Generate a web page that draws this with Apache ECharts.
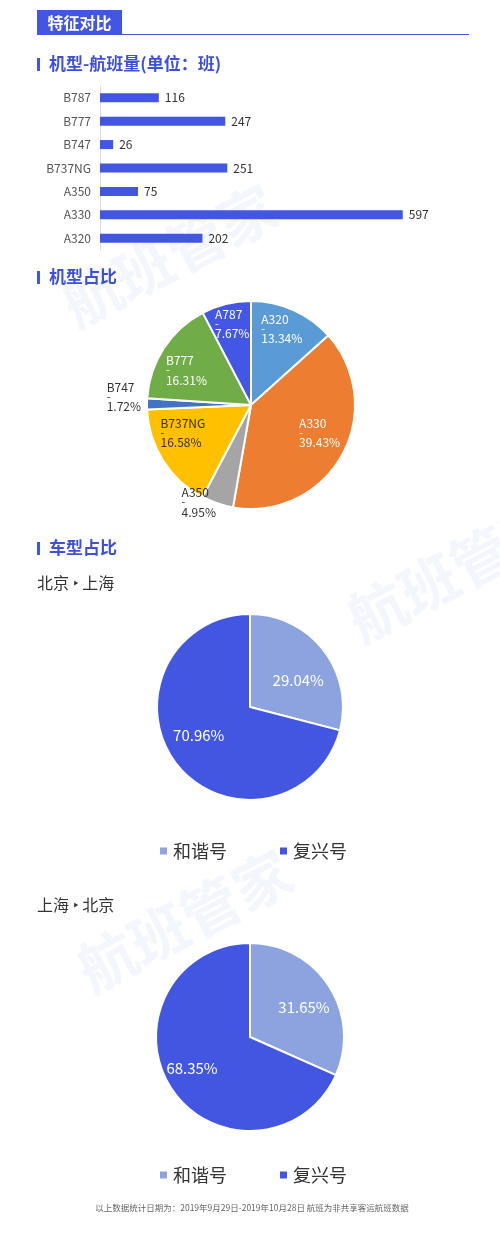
<!DOCTYPE html>
<html><head><meta charset="utf-8">
<script src="https://cdn.jsdelivr.net/npm/echarts@6/dist/echarts.min.js"></script>
<style>html,body{margin:0;padding:0;background:#fff}#c{width:500px;height:1233px}</style>
</head><body><div id="c"></div>
<script>
// ---- data ----
const barCategories = ['A320', 'A330', 'A350', 'B737NG', 'B747', 'B777', 'B787'];
const barValues = [202, 597, 75, 251, 26, 247, 116];
const pieNames = ['A320', 'A330', 'A350', 'B737NG', 'B747', 'B777', 'A787'];
const piePercents = [13.34, 39.43, 4.95, 16.58, 1.72, 16.31, 7.67];
const trainNames = ['和谐号', '复兴号'];
const bjshPercents = [29.04, 70.96];
const shbjPercents = [31.65, 68.35];

// ---- styles ----
const FONT = 'Noto Sans CJK SC';
const BLUE = '#4356e2';
const LIGHT = '#8ca3e0';
const pieColors = ['#5b9bd5', '#ed7d31', '#a5a5a5', '#ffc000', '#4472c4', '#70ad47', '#4356e6'];
const pieLabelColors = ['#fff', '#fff', '#333', '#333', '#333', '#fff', '#fff'];
const pieLabelNudge = [[-3, 0], [-4, -12], [3, 1], [2, -16], [-3, -7], [5, 11], [1, 0]];
const outsideLabels = ['A350', 'B747'];
const trainColors = [LIGHT, BLUE];
const bjshNudge = [[0, 11], [-3, -9]];
const shbjNudge = [[2, 4], [-6, -2]];

const chart = echarts.init(document.getElementById('c'), null, {renderer: 'canvas'});

const pieRich = {
  n: {fontSize: 12, lineHeight: 10, align: 'left', fontFamily: FONT},
  s: {fontSize: 11, lineHeight: 9, align: 'left', fontFamily: FONT},
  p: {fontSize: 12, lineHeight: 11, align: 'left', fontFamily: FONT}
};

function pieData(withStyle) {
  return pieNames.map((n, i) => {
    const d = {name: n, value: piePercents[i]};
    if (withStyle) {
      d.itemStyle = {color: pieColors[i]};
    } else {
      const outside = outsideLabels.indexOf(n) >= 0;
      d.label = {
        position: outside ? 'outside' : 'inside',
        color: pieLabelColors[i],
        offset: pieLabelNudge[i]
      };
      if (outside) d.labelLine = {show: false, length: 0, length2: 0};
    }
    return d;
  });
}

function trainData(vals, withStyle, nudge) {
  return trainNames.map((n, i) => {
    const d = {name: n, value: vals[i]};
    if (withStyle) d.itemStyle = {color: trainColors[i]};
    else d.label = {offset: nudge[i]};
    return d;
  });
}

function watermark(x, y, rot, size) {
  return {
    type: 'text', x: x, y: y, rotation: rot, z: -10, silent: true,
    style: {text: '航班管家', fontSize: size, fontWeight: 'bold', fontFamily: FONT,
            fill: 'rgba(200,212,240,0.22)', verticalAlign: 'bottom'}
  };
}

function sectionTitle(text, y) {
  return [
    {type: 'rect', shape: {x: 37, y: y - 6, width: 3, height: 13}, style: {fill: BLUE}},
    {type: 'text', x: 49, y: y, style: {text: text, fontSize: 17, fontWeight: 'bold', fontFamily: FONT,
      fill: '#3d50d8', verticalAlign: 'middle'}}
  ];
}

const legendBase = {
  data: trainNames, left: 153, itemWidth: 9, itemHeight: 9, icon: 'rect', itemGap: 51,
  textStyle: {fontSize: 18, color: '#333', fontFamily: FONT, lineHeight: 20}, selectedMode: false
};

const option = {
  backgroundColor: '#fff',
  animation: false,
  textStyle: {fontFamily: FONT},
  graphic: [
    watermark(80, 335, 0.48, 58),
    watermark(365, 650, 0.48, 58),
    watermark(95, 1000, 0.48, 58),
    {type: 'rect', shape: {x: 37, y: 10, width: 85, height: 25}, style: {fill: BLUE}},
    {type: 'line', shape: {x1: 37, y1: 34.5, x2: 469, y2: 34.5}, style: {stroke: BLUE, lineWidth: 1}},
    {type: 'text', x: 79.5, y: 22.5, style: {text: '特征对比', fontSize: 16, fontWeight: 'bold', fontFamily: FONT,
      fill: '#fff', align: 'center', verticalAlign: 'middle'}},
    ...sectionTitle('机型-航班量(单位：班)', 64),
    ...sectionTitle('机型占比', 277),
    ...sectionTitle('车型占比', 548),
    {type: 'text', x: 37, y: 583, style: {text: '北京 ‣ 上海', fontSize: 16, fontFamily: FONT,
      fill: '#333', verticalAlign: 'middle'}},
    {type: 'text', x: 37, y: 905, style: {text: '上海 ‣ 北京', fontSize: 16, fontFamily: FONT,
      fill: '#333', verticalAlign: 'middle'}},
    {type: 'text', x: 252, y: 1208, style: {text: '以上数据统计日期为：2019年9月29日-2019年10月28日 航班为非共享客运航班数据',
      fontSize: 8.5, fontFamily: FONT, fill: '#666', align: 'center', verticalAlign: 'middle'}}
  ],
  legend: [
    Object.assign({top: 836}, legendBase),
    Object.assign({top: 1160}, legendBase)
  ],
  grid: {left: 100, top: 86, width: 355, height: 164},
  xAxis: {type: 'value', max: 700, show: false},
  yAxis: {
    type: 'category', data: barCategories,
    axisLine: {lineStyle: {color: '#dcdcdc'}},
    axisTick: {show: false},
    axisLabel: {color: '#555', fontSize: 12, margin: 9}
  },
  series: [
    {
      type: 'bar', data: barValues, barWidth: 9,
      itemStyle: {color: BLUE},
      label: {show: true, position: 'right', distance: 6, color: '#333', fontSize: 12}
    },
    {
      type: 'pie', name: 'pie1', center: [251, 405], radius: 104, startAngle: 90,
      data: pieData(true), label: {show: false}, labelLine: {show: false},
      itemStyle: {borderColor: '#fff', borderWidth: 2}, silent: true
    },
    {
      type: 'pie', name: 'pie1lbl', center: [251, 405], radius: [58, 102], startAngle: 90,
      avoidLabelOverlap: false, silent: true,
      data: pieData(false),
      itemStyle: {color: 'rgba(0,0,0,0)', borderWidth: 0},
      label: {show: true, formatter: '{n|{b}}\n{s|-}\n{p|{c}%}', rich: pieRich},
      labelLine: {show: false}
    },
    {
      type: 'pie', name: 'bjsh', center: [250, 707], radius: 93, startAngle: 90,
      data: trainData(bjshPercents, true), label: {show: false}, labelLine: {show: false},
      itemStyle: {borderColor: '#fff', borderWidth: 2}, silent: true
    },
    {
      type: 'pie', name: 'bjshlbl', center: [250, 707], radius: [23, 93], startAngle: 90,
      data: trainData(bjshPercents, false, bjshNudge), silent: true, avoidLabelOverlap: false,
      itemStyle: {color: 'rgba(0,0,0,0)', borderWidth: 0},
      label: {show: true, position: 'inside', formatter: '{c}%', color: '#fff', fontSize: 15}
    },
    {
      type: 'pie', name: 'shbj', center: [250, 1037], radius: 94, startAngle: 90,
      data: trainData(shbjPercents, true), label: {show: false}, labelLine: {show: false},
      itemStyle: {borderColor: '#fff', borderWidth: 2}, silent: true
    },
    {
      type: 'pie', name: 'shbjlbl', center: [250, 1037], radius: [24, 94], startAngle: 90,
      data: trainData(shbjPercents, false, shbjNudge), silent: true, avoidLabelOverlap: false,
      itemStyle: {color: 'rgba(0,0,0,0)', borderWidth: 0},
      label: {show: true, position: 'inside', formatter: '{c}%', color: '#fff', fontSize: 15}
    }
  ]
};
chart.setOption(option);
</script>
</body></html>
